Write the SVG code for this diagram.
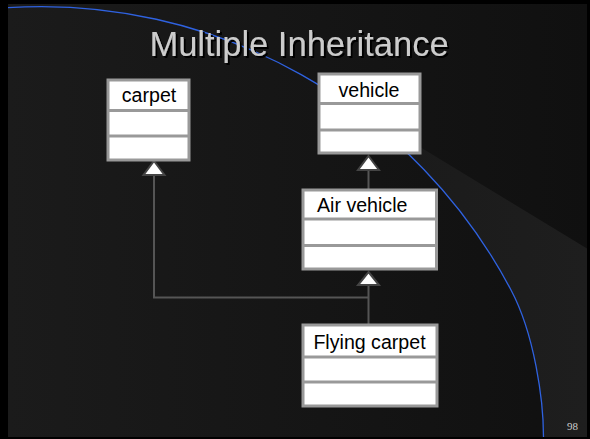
<svg xmlns="http://www.w3.org/2000/svg" width="590" height="439" viewBox="0 0 590 439">
<defs>
<linearGradient id="bg" x1="0" y1="0" x2="1" y2="0">
<stop offset="0" stop-color="#1b1b1b"/>
<stop offset="1" stop-color="#101010"/>
</linearGradient>
<linearGradient id="wedge" x1="0" y1="0" x2="1" y2="0">
<stop offset="0" stop-color="#1a1a1a"/>
<stop offset="1" stop-color="#1e1e1e"/>
</linearGradient>
<clipPath id="slide"><rect x="8" y="4" width="579" height="433"/></clipPath>
<filter id="shadow" x="-5%" y="-20%" width="110%" height="150%">
<feDropShadow dx="2" dy="2" stdDeviation="0.6" flood-color="#000" flood-opacity="1"/>
</filter>
<style>
.box{fill:#fff;stroke:#999;stroke-width:3}
.div{stroke:#999;stroke-width:3}
.lbl{font-family:"Liberation Sans",Arial,sans-serif;font-size:19.6px;fill:#000}
.conn{stroke:#555;stroke-width:2;fill:none}
.tri{fill:#fff;stroke:#444;stroke-width:2;stroke-linejoin:miter}
.title{font-family:"Liberation Sans",Arial,sans-serif;font-size:34.5px;text-anchor:middle;fill:#cccccc}
.pg{font-family:"Liberation Serif","Times New Roman",serif;font-size:11px;fill:#cccccc}
</style>
</defs>
<rect width="590" height="439" fill="#000"/>
<g clip-path="url(#slide)">
<rect x="8" y="4" width="579" height="433" fill="url(#bg)"/>
<path d="M333,94 L587,248.5 L587,437 L543.5,437 C543.5,400 534.4,334 511,290 A531,531 0 0 0 333,94 Z" fill="url(#wedge)"/>
<path d="M8,7.7 A531,531 0 0 1 511,290 C534.4,334 543.5,400 543.5,437" fill="none" stroke="#2f62e0" stroke-width="1.3"/>
</g>
<g id="title">
<text class="title" x="299" y="56" filter="url(#shadow)">Multiple Inheritance</text>
</g>
<g id="connectors">
<line class="conn" x1="368.5" y1="169" x2="368.5" y2="189"/>
<polyline class="conn" points="368.5,284 368.5,324"/>
<polyline class="conn" points="154,174 154,297.5 368.5,297.5"/>
<polygon class="tri" points="368.5,156 379,170 358,170"/>
<polygon class="tri" points="368.5,272 379,285 358,285"/>
<polygon class="tri" points="154,161 164.5,175 143.5,175"/>
</g>
<g id="carpet">
<rect class="box" x="108" y="80" width="81" height="80"/>
<line class="div" x1="108" y1="110.5" x2="189" y2="110.5"/>
<line class="div" x1="108" y1="136" x2="189" y2="136"/>
<text class="lbl" x="149" y="102" text-anchor="middle">carpet</text>
</g>
<g id="vehicle">
<rect class="box" x="319" y="74" width="101" height="79"/>
<line class="div" x1="319" y1="103.5" x2="420" y2="103.5"/>
<line class="div" x1="319" y1="130" x2="420" y2="130"/>
<text class="lbl" x="369" y="96.5" text-anchor="middle">vehicle</text>
</g>
<g id="air-vehicle">
<rect class="box" x="303" y="190" width="133.5" height="79"/>
<line class="div" x1="303" y1="219" x2="436.5" y2="219"/>
<line class="div" x1="303" y1="245.5" x2="436.5" y2="245.5"/>
<text class="lbl" x="317" y="212.3">Air vehicle</text>
</g>
<g id="flying-carpet">
<rect class="box" x="303" y="325" width="134" height="81"/>
<line class="div" x1="303" y1="357" x2="437" y2="357"/>
<line class="div" x1="303" y1="382" x2="437" y2="382"/>
<text class="lbl" x="369.5" y="349" text-anchor="middle">Flying carpet</text>
</g>
<text class="pg" x="567" y="430">98</text>
</svg>
